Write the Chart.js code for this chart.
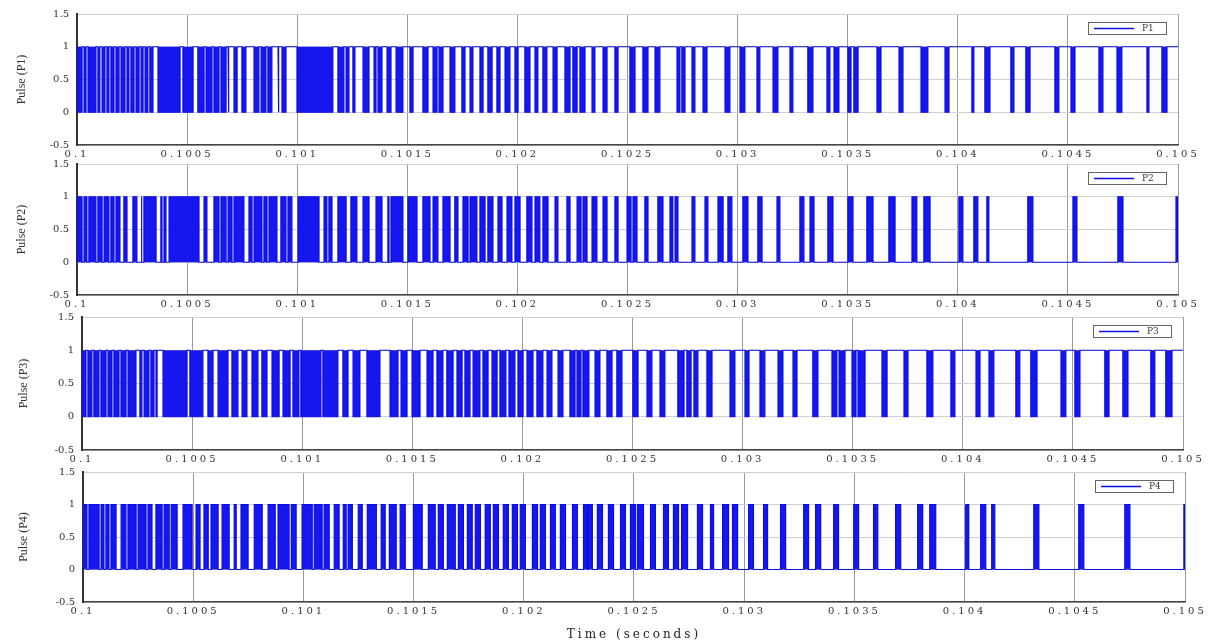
<!DOCTYPE html>
<html><head><meta charset="utf-8">
<script src="https://cdn.jsdelivr.net/npm/chart.js@4.4.1/dist/chart.umd.min.js"></script>
<style>
html,body{margin:0;padding:0;background:#fff;width:1219px;height:642px;overflow:hidden;}
.wrap{position:absolute;left:0;width:1219px;}
canvas{display:block;}
</style></head><body>
<div class="wrap" style="top:0px"><canvas id="c1" width="1219" height="168"></canvas></div>
<div class="wrap" style="top:150px"><canvas id="c2" width="1219" height="166"></canvas></div>
<div class="wrap" style="top:303px"><canvas id="c3" width="1219" height="167"></canvas></div>
<div class="wrap" style="top:458px"><canvas id="c4" width="1219" height="184"></canvas></div>
<script>
// ---- data (times in microseconds after t0 = 0.1 s) ----
const t0 = 0.1;
const tEnd = 0.105;
const xTickValues = [0.1, 0.1005, 0.101, 0.1015, 0.102, 0.1025, 0.103, 0.1035, 0.104, 0.1045, 0.105];
const xTickLabels = ['0.1','0.1005','0.101','0.1015','0.102','0.1025','0.103','0.1035','0.104','0.1045','0.105'];
const yTickValues = [-0.5, 0, 0.5, 1, 1.5];
const yTickLabels = ['-0.5','0','0.5','1','1.5'];
const seriesNames = ['P1','P2','P3','P4'];
const yTitles = ['Pulse (P1)','Pulse (P2)','Pulse (P3)','Pulse (P4)'];
const xTitle = 'Time (seconds)';

// P1: intervals where the pulse drops to 0 (otherwise 1)
const p1LowUs = [[0,23],[32,41],[50,86],[95,104],[114,127],[136,145],[154,168],[177,191],[200,218],[227,236],[245,259],[268,282],[291,300],[309,322],[331,345],[368,468],[481,527],[549,577],[586,613],[622,645],[654,677],[686,690],[713,727],[749,767],[804,826],[836,858],[867,885],[913,917],[931,949],[999,1162],[1185,1212],[1222,1235],[1253,1262],[1299,1326],[1349,1358],[1367,1385],[1408,1426],[1449,1480],[1512,1526],[1571,1594],[1617,1635],[1644,1662],[1694,1716],[1748,1762],[1785,1798],[1830,1844],[1866,1885],[1907,1921],[1944,1966],[1989,2003],[2034,2057],[2080,2093],[2116,2134],[2162,2180],[2216,2239],[2252,2271],[2284,2307],[2339,2352],[2389,2407],[2443,2457],[2511,2534],[2570,2593],[2625,2647],[2725,2738],[2747,2761],[2793,2806],[2843,2861],[2943,2965],[3011,3033],[3088,3101],[3161,3183],[3238,3251],[3319,3342],[3406,3419],[3438,3460],[3501,3515],[3528,3547],[3633,3651],[3733,3751],[3833,3864],[3942,3960],[4064,4073],[4123,4146],[4241,4255],[4309,4328],[4441,4459],[4514,4532],[4641,4659],[4723,4745],[4859,4868],[4927,4950]];
// P2: intervals where the pulse rises to 1 (otherwise 0)
const p2HighUs = [[0,23],[32,45],[54,86],[95,114],[123,145],[154,168],[177,195],[213,227],[254,272],[291,295],[304,359],[381,386],[395,404],[418,554],[577,590],[622,645],[654,677],[686,704],[713,758],[781,795],[804,840],[849,863],[872,908],[926,949],[958,976],[1004,1099],[1122,1135],[1144,1158],[1185,1222],[1244,1271],[1299,1326],[1358,1385],[1412,1417],[1426,1480],[1503,1544],[1571,1603],[1617,1639],[1662,1694],[1716,1730],[1753,1776],[1785,1816],[1830,1853],[1866,1889],[1912,1930],[1953,1975],[1989,2012],[2043,2066],[2080,2102],[2116,2139],[2171,2184],[2225,2239],[2271,2289],[2298,2316],[2339,2361],[2389,2407],[2443,2457],[2498,2516],[2525,2543],[2579,2593],[2638,2661],[2693,2706],[2716,2729],[2793,2806],[2852,2865],[2911,2934],[2956,2974],[3024,3047],[3092,3111],[3179,3192],[3283,3301],[3329,3347],[3410,3433],[3501,3524],[3587,3615],[3687,3715],[3792,3814],[3846,3874],[4005,4023],[4073,4091],[4132,4141],[4318,4341],[4523,4541],[4727,4750],[4991,5000]];
// P3: intervals where the pulse drops to 0 (otherwise 1)
const p3LowUs = [[0,18],[27,45],[54,77],[86,109],[118,136],[145,168],[177,200],[209,245],[263,272],[282,304],[313,327],[336,341],[368,477],[490,549],[572,595],[618,663],[681,708],[727,749],[772,799],[817,840],[863,895],[913,945],[958,985],[994,1085],[1094,1162],[1185,1208],[1231,1262],[1294,1353],[1399,1435],[1449,1476],[1499,1535],[1567,1594],[1612,1639],[1657,1685],[1703,1726],[1739,1762],[1776,1807],[1821,1844],[1862,1885],[1898,1925],[1939,1966],[1980,2003],[2021,2048],[2066,2093],[2112,2134],[2162,2184],[2216,2239],[2248,2266],[2275,2302],[2330,2352],[2384,2407],[2429,2452],[2502,2525],[2566,2588],[2625,2647],[2706,2734],[2747,2766],[2779,2797],[2838,2861],[2943,2965],[3011,3029],[3079,3101],[3161,3183],[3229,3247],[3319,3342],[3406,3428],[3438,3465],[3497,3515],[3524,3556],[3633,3656],[3733,3751],[3837,3864],[3946,3964],[4060,4078],[4119,4141],[4241,4259],[4309,4337],[4446,4468],[4509,4532],[4645,4664],[4727,4750],[4854,4872],[4922,4950]];
// P4: intervals where the pulse rises to 1 (otherwise 0)
const p4HighUs = [[0,18],[27,73],[82,95],[104,118],[127,150],[173,195],[204,241],[250,286],[295,313],[331,359],[368,391],[400,427],[454,495],[513,531],[549,568],[581,613],[631,663],[686,695],[717,749],[777,813],[840,872],[885,935],[945,967],[994,1040],[1049,1085],[1094,1117],[1140,1162],[1181,1194],[1203,1222],[1249,1267],[1290,1331],[1353,1371],[1390,1421],[1439,1462],[1499,1539],[1567,1598],[1612,1635],[1653,1689],[1703,1726],[1744,1766],[1780,1803],[1825,1848],[1862,1885],[1907,1930],[1948,1971],[1984,2007],[2039,2062],[2075,2098],[2121,2143],[2166,2189],[2221,2243],[2271,2289],[2293,2311],[2334,2357],[2384,2407],[2439,2461],[2484,2507],[2516,2543],[2575,2597],[2634,2656],[2679,2702],[2716,2743],[2788,2811],[2847,2861],[2902,2929],[2947,2970],[3020,3042],[3088,3106],[3165,3188],[3270,3292],[3324,3347],[3406,3428],[3497,3519],[3587,3606],[3687,3710],[3787,3810],[3842,3869],[4005,4019],[4073,4096],[4123,4137],[4314,4337],[4518,4541],[4727,4750],[4995,5000]];

// ---- build step waveforms from the intervals ----
function toSec(us) {
  return Math.min(tEnd, Math.round((t0 + us * 1e-6) * 1e7) / 1e7);
}
function buildWave(pairs, base) {
  const other = 1 - base;
  const pts = [{x: t0, y: base}];
  for (const [s, e] of pairs) {
    const xs = toSec(s), xe = toSec(e);
    pts.push({x: xs, y: base}, {x: xs, y: other}, {x: xe, y: other}, {x: xe, y: base});
  }
  if (pts[pts.length - 1].x < tEnd) pts.push({x: tEnd, y: base});
  return pts;
}

const BLUE = 'rgb(12,12,228)';
const FILL = 'rgb(22,22,238)';
const TXT = '#333';
const FONT = 'DejaVu Serif';

const boxLegend = {
  id: 'boxLegend',
  afterDraw(chart) {
    const ctx = chart.ctx, a = chart.chartArea;
    const w = 78, h = 12;
    const x = Math.round(a.right - 12 - w), y = Math.round(a.top + 8);
    ctx.save();
    ctx.fillStyle = '#fff';
    ctx.fillRect(x, y, w, h);
    ctx.strokeStyle = '#666';
    ctx.lineWidth = 1;
    ctx.strokeRect(x + 0.5, y + 0.5, w, h);
    ctx.strokeStyle = BLUE;
    ctx.lineWidth = 1.5;
    ctx.beginPath();
    ctx.moveTo(x + 6, y + h / 2 + 0.5);
    ctx.lineTo(x + 46, y + h / 2 + 0.5);
    ctx.stroke();
    ctx.fillStyle = TXT;
    ctx.font = '9px "' + FONT + '"';
    ctx.textBaseline = 'middle';
    ctx.textAlign = 'left';
    ctx.fillText(chart.data.datasets[0].label, x + 54, y + h / 2 + 1);
    ctx.restore();
  }
};

const spacedText = {
  id: 'spacedText',
  afterLayout(chart) {
    const s = chart.scales.x;
    if (s && !s._spaced) {
      const ol = s.drawLabels, ot = s.drawTitle;
      s.drawLabels = function (area) { const c = this.ctx; c.save(); c.letterSpacing = '3px'; ol.call(this, area); c.restore(); };
      s.drawTitle = function () { const c = this.ctx; c.save(); c.letterSpacing = '3px'; ot.call(this); c.restore(); };
      s._spaced = true;
    }
  }
};

const panels = [
  {id: 'c1', pairs: p1LowUs, base: 1, left: 77, right: 41, top: 13, xh: 23, tpad: 15},
  {id: 'c2', pairs: p2HighUs, base: 0, left: 77, right: 41, top: 14, xh: 21, tpad: 15},
  {id: 'c3', pairs: p3LowUs, base: 1, left: 82, right: 36, top: 14, xh: 20, tpad: 17},
  {id: 'c4', pairs: p4HighUs, base: 0, left: 83, right: 34, top: 14, xh: 40, tpad: 17}
];

panels.forEach((p, i) => {
  const last = i === panels.length - 1;
  new Chart(document.getElementById(p.id), {
    type: 'line',
    data: {
      datasets: [{
        label: seriesNames[i],
        data: buildWave(p.pairs, p.base),
        borderColor: BLUE,
        backgroundColor: FILL,
        borderWidth: 1.2,
        pointRadius: 0,
        tension: 0,
        fill: {value: p.base}
      }]
    },
    options: {
      responsive: false,
      animation: false,
      devicePixelRatio: 1,
      parsing: false,
      layout: {padding: {left: 0, right: p.right, top: p.top, bottom: 0}},
      plugins: {legend: {display: false}, tooltip: {enabled: false}},
      scales: {
        x: {
          type: 'linear', min: t0, max: tEnd,
          afterBuildTicks: s => { s.ticks = xTickValues.map(v => ({value: v})); },
          afterFit: s => { s.height = p.xh; },
          ticks: {
            callback: (v, idx) => xTickLabels[idx],
            autoSkip: false, maxRotation: 0, padding: 3,
            color: TXT, font: {family: FONT, size: 10}
          },
          grid: {color: '#9a9a9a', lineWidth: 1, drawTicks: false},
          border: {color: '#444', width: 1.5},
          title: {
            display: last, text: xTitle, color: '#222',
            font: {family: FONT, size: 12}, padding: {top: 1, bottom: 0}
          }
        },
        y: {
          type: 'linear', min: -0.5, max: 1.5,
          afterBuildTicks: s => { s.ticks = yTickValues.map(v => ({value: v})); },
          afterFit: s => { s.width = p.left; },
          ticks: {
            callback: (v, idx) => yTickLabels[idx],
            padding: 8, color: TXT, font: {family: FONT, size: 10}
          },
          grid: {color: '#d0d0d0', lineWidth: 1, drawTicks: false},
          border: {color: '#333', width: 2},
          title: {
            display: true, text: yTitles[i], color: TXT,
            font: {family: 'Liberation Serif', size: 12}, padding: {top: p.tpad, bottom: 0}
          }
        }
      }
    },
    plugins: [boxLegend, spacedText]
  });
});
</script>
</body></html>
